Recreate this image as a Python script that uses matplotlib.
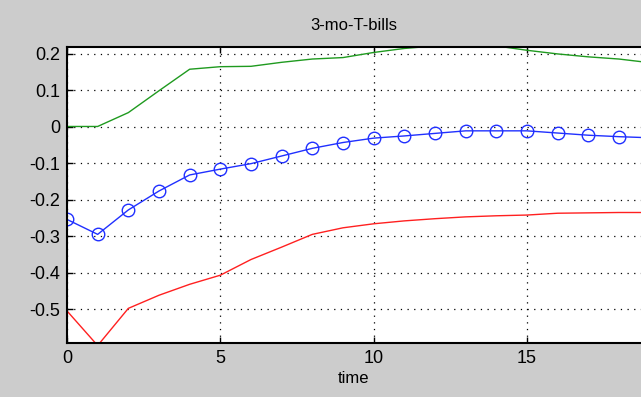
import matplotlib
matplotlib.use("Agg")
import matplotlib.pyplot as plt

plt.rcParams['font.family'] = ['Liberation Sans', 'DejaVu Sans']
plt.rcParams['lines.scale_dashes'] = False

t = list(range(20))
blue = [-0.254, -0.295, -0.228, -0.176, -0.132, -0.116, -0.101, -0.080, -0.059, -0.043,
        -0.031, -0.025, -0.018, -0.011, -0.011, -0.011, -0.017, -0.023, -0.027, -0.030]
green = [0.001, 0.001, 0.039, 0.099, 0.158, 0.165, 0.166, 0.177, 0.186, 0.190,
         0.204, 0.215, 0.222, 0.225, 0.222, 0.210, 0.200, 0.192, 0.186, 0.176]
red = [-0.505, -0.600, -0.498, -0.462, -0.432, -0.407, -0.364, -0.330, -0.295, -0.277,
       -0.266, -0.258, -0.252, -0.247, -0.244, -0.242, -0.237, -0.236, -0.235, -0.235]
xticks = [0, 5, 10, 15]
yticks = [0.2, 0.1, 0, -0.1, -0.2, -0.3, -0.4, -0.5]
ytick_labels = ['0.2', '0.1', '0', '-0.1', '-0.2', '-0.3', '-0.4', '-0.5']

fig = plt.figure(figsize=(6.41, 3.97), dpi=100, facecolor='#cccccc')
ax = fig.add_axes([67/641, 54/397, 1.0 - 67/641, 296/397])
ax.set_facecolor('white')

ax.plot(t, green, color='#1f9a1f', lw=1.0)
ax.plot(t, red, color='#ff2020', lw=1.0)
ax.plot(t, blue, color='#2030ff', lw=1.0, marker='o', markersize=9,
        markerfacecolor='none', markeredgecolor='#2030ff', markeredgewidth=1.0)

ax.set_xlim(0, 18.72)
ax.set_ylim(-0.593, 0.219)
ax.set_xticks(xticks)
ax.set_xticklabels([str(v) for v in xticks])
ax.set_yticks(yticks)
ax.set_yticklabels(ytick_labels)

ax.grid(True, color='black', linestyle=(0, (0.9, 3.9)), linewidth=0.9)
ax.tick_params(direction='in', length=4, width=1, top=True, right=False,
               labelsize=13, colors='black', pad=5)
for s in ['left', 'bottom', 'top']:
    ax.spines[s].set_linewidth(1.5)
    ax.spines[s].set_color('black')
ax.spines['right'].set_visible(False)

ax.set_title('3-mo-T-bills', fontsize=12, pad=12)
ax.set_xlabel('time', fontsize=12, labelpad=3)

fig.savefig('out.png', dpi=100, facecolor=fig.get_facecolor())
